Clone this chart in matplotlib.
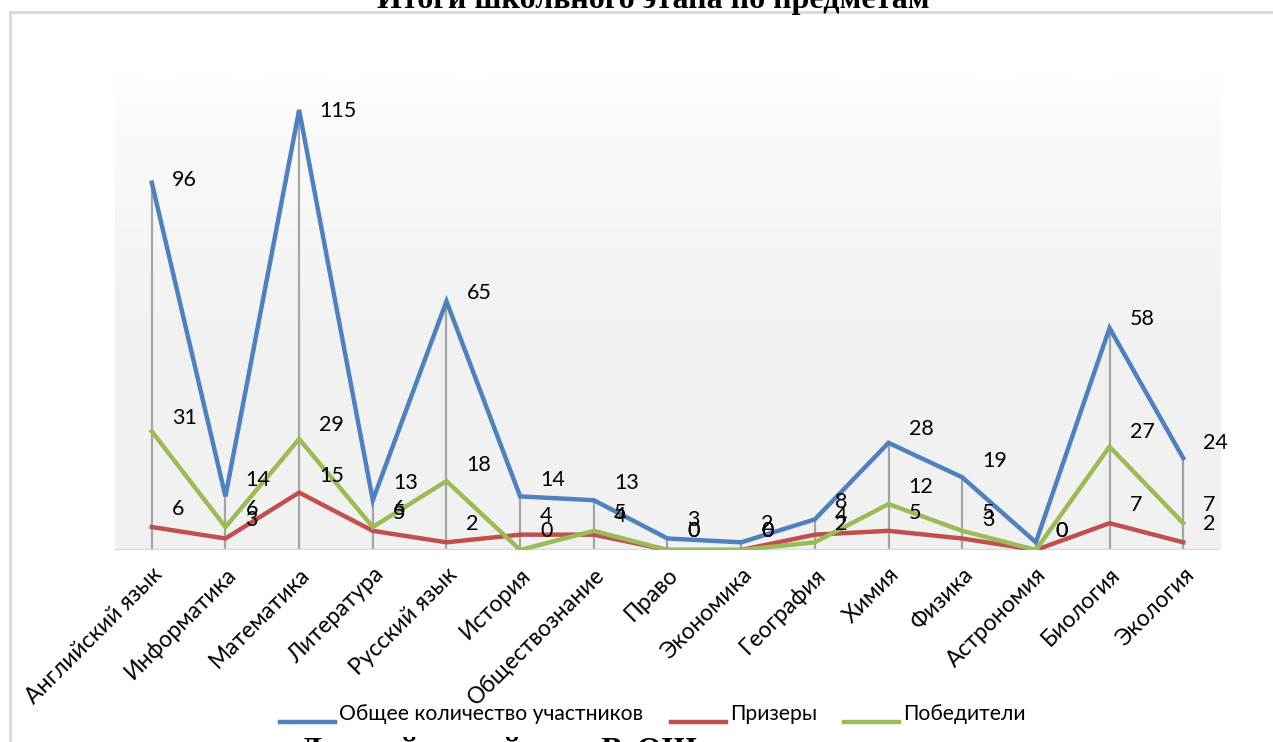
import numpy as np
import matplotlib
matplotlib.use("Agg")
import matplotlib.pyplot as plt

# Итоги школьного этапа по предметам
subjects = ["Английский язык", "Информатика", "Математика", "Литература", "Русский язык",
            "История", "Обществознание", "Право", "Экономика", "География", "Химия",
            "Физика", "Астрономия", "Биология", "Экология"]
total = [96, 14, 115, 13, 65, 14, 13, 3, 2, 8, 28, 19, 2, 58, 24]
prizers = [6, 3, 15, 5, 2, 4, 4, 0, 0, 4, 5, 3, 0, 7, 2]
winners = [31, 6, 29, 6, 18, 0, 5, 0, 0, 2, 12, 5, 0, 27, 7]
# подписи, которые видны на картинке (у астрономии подпись общего числа не видна)
show_total = [True] * 12 + [False, True, True]

series = [
    ("Общее количество участников", total, "#4f81bd"),
    ("Призеры", prizers, "#c0504d"),
    ("Победители", winners, "#9bbb59"),
]

plt.rcParams['font.family'] = ['Lato', 'DejaVu Sans']

fig = plt.figure(figsize=(12.73, 7.42), dpi=100)
ax = fig.add_axes([0.0903, 0.2588, 0.8681, 0.6374])

x = np.arange(len(subjects))
ymax = 123.6

# фон области построения - вертикальный градиент
grad = np.linspace(0, 1, 256).reshape(-1, 1)
cmap = matplotlib.colors.LinearSegmentedColormap.from_list("bg", ["#f1f1f1", "#f2f2f2", "#fdfdfd"])
ax.imshow(grad, aspect="auto", cmap=cmap, extent=(-0.5, len(subjects) - 0.5, 0, ymax),
          origin="lower", zorder=0)

# линии проекции
tops = np.max([total, prizers, winners], axis=0)
ax.vlines(x, -0.6, tops, color="#a5a5a5", lw=1.6, zorder=1)

for name, vals, col in series:
    ax.plot(x, vals, color=col, lw=3.2, label=name, zorder=3, solid_joinstyle="miter")

# подписи данных
for name, vals, col in series:
    for i, v in enumerate(vals):
        if vals is total and not show_total[i]:
            continue
        ax.annotate(str(v), (x[i], 0.955 * v + 5), xytext=(20, 0), textcoords="offset pixels",
                    ha="left", va="center", fontsize=15.5, color="black", zorder=4)

ax.set_xlim(-0.5, len(subjects) - 0.5)
ax.set_ylim(0, ymax)
ax.axhline(0, color="#d9d9d9", lw=2.5, zorder=2)
for s in ax.spines.values():
    s.set_visible(False)
ax.set_yticks([])
ax.set_xticks(x)
ax.set_xticklabels(subjects, rotation=45, ha="right", va="top", rotation_mode="anchor",
                   fontsize=16.5)
ax.tick_params(axis="x", length=0, pad=10)

leg = fig.legend(loc="center", bbox_to_anchor=(0.513, 0.038), ncol=3, frameon=False,
                 fontsize=15.2, handlelength=2.6, columnspacing=1.3, handletextpad=0.2)
# в оригинале линии легенды чуть ниже текста
for h in leg.get_lines():
    h.set_ydata([y - 7 for y in h.get_ydata()])

# рамка диаграммы
fig.add_artist(plt.Line2D([10 / 1273, 10 / 1273], [0, 1 - 12 / 742], color="#d9d9d9", lw=2))
fig.add_artist(plt.Line2D([10 / 1273, 1], [1 - 12 / 742, 1 - 12 / 742], color="#d9d9d9", lw=2))

fig.text(0.513, 1 - 8 / 742, "Итоги школьного этапа по предметам", ha="center", va="baseline",
         fontsize=23, fontweight="bold", family="Liberation Serif")
fig.text(300 / 1273, -17 / 742, "Данный новый этап ВсОШ", ha="left", va="baseline",
         fontsize=23, fontweight="bold", family="Liberation Serif")

fig.savefig("out.png", dpi=100)
